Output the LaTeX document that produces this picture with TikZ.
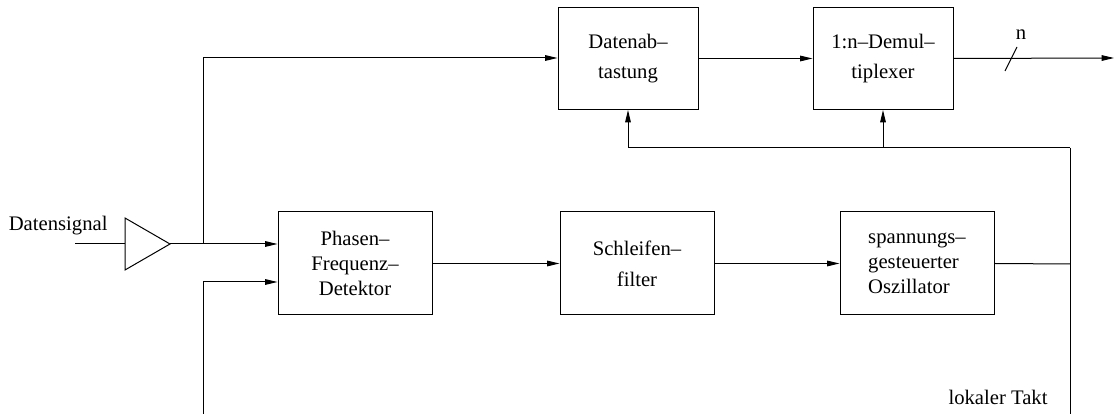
\documentclass[tikz,border=0pt]{standalone}
\usepackage{fontspec}
\setmainfont{Liberation Serif}
\usetikzlibrary{arrows.meta}
\begin{document}
\begin{tikzpicture}[x=0.6pt,y=-0.6pt,
  line width=0.6pt,
  font=\fontsize{12.4pt}{15pt}\selectfont,
  block/.style={draw, minimum width=92.4pt, minimum height=61.8pt, inner sep=0pt, align=center},
  topblock/.style={draw, minimum width=84pt, minimum height=61.2pt, inner sep=0pt, align=center},
  sig/.style={-{Triangle[length=7.5pt,width=3.4pt]}}]
\useasboundingbox (0,0) rectangle (1114,414);

% amplifier
\coordinate (ampin) at (125,244);
\coordinate (ampout) at (170,244);
\draw (125,218) -- (ampout) -- (125,270) -- cycle;
\coordinate (src) at (75,244);
\node[anchor=east, inner sep=0pt] (lbl) at (108,226) {Datensignal};

% blocks
\node[block] (pfd) at (355,263.5) {Phasen--\\Frequenz--\\Detektor};
\node[block] (lf)  at (637,263.5) {Schleifen--\\[3.5pt]filter};
\node[block, align=left] (vco) at (917,263.5) {spannungs--\\gesteuerter\\Oszillator};
\node[topblock] (da) at (628,58.5) {Datenab--\\[3.5pt]tastung};
\node[topblock] (dm) at (883,58.5) {1:n--Demul--\\[3pt]tiplexer};

% junctions and free ends
\coordinate (j1) at (203,244);
\coordinate (j1up) at (203,58);
\coordinate (ref) at (203,414);
\coordinate (ref2) at (203,282);
\coordinate (clk) at (1070,264);
\coordinate (fb) at (1070,148);
\coordinate (clkend) at (1070,414);
\coordinate (out) at (1114,58);

% signal paths
\draw (src) -- (ampin);
\draw[sig] (ampout) -- (pfd.west |- ampout);
\draw[sig] (j1) -- (j1up) -- (da.west |- j1up);
\draw[sig] (ref) -- (ref2) -- (pfd.west |- ref2);
\draw[sig] (pfd.east) -- (lf.west);
\draw[sig] (lf.east) -- (vco.west);
\draw (vco.east) -- (clk);
\draw (fb) -- (clkend);
\draw (fb) -- (da.south |- fb);
\draw[sig] (da.south |- fb) -- (da.south);
\draw[sig] (dm.south |- fb) -- (dm.south);
\draw[sig] (da.east) -- (dm.west);
\draw[sig] (dm.east) -- (out);

% bus width mark
\coordinate (s1) at (1005,71);
\coordinate (s2) at (1017,47);
\draw (s1) -- (s2);
\node[inner sep=0pt] (nlbl) at (1021,35) {n};

\node[inner sep=0pt] (clklbl) at (998,397) {lokaler Takt};
\end{tikzpicture}
\end{document}
